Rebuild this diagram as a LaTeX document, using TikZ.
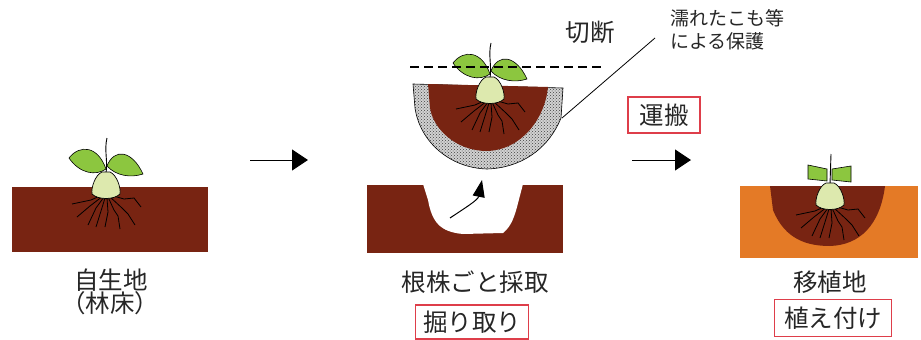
\documentclass[tikz,border=0pt]{standalone}
\usepackage{fontspec}
\setmainfont{Noto Sans CJK JP}
\usetikzlibrary{arrows.meta,patterns,positioning}

\definecolor{soil}{RGB}{120,36,18}
\definecolor{field}{RGB}{228,122,38}
\definecolor{leafgreen}{RGB}{140,198,63}
\definecolor{bulbgreen}{RGB}{221,233,174}
\definecolor{boxred}{RGB}{222,62,74}

% roots, drawn round the origin (bulb centre)
\newcommand\drawroots{%
  \draw[line width=0.8pt,line join=round]
    (-4,9) -- (-15,14) -- (-34,18)
    (-3,10) -- (-16,20) -- (-29,31)
    (-2,11) -- (-10,22) -- (-18,39)
    (-1,12) -- (-5,25) -- (-10,41)
    (1,12) -- (2,26) -- (-1,41)
    (2,11) -- (8,24) -- (12,30) -- (14,43)
    (3,10) -- (16,22) -- (22,28) -- (29,39)
    (4,9) -- (18,13) -- (28,12) -- (35,21);}
\newcommand\drawbulb{%
  \filldraw[fill=bulbgreen,line width=0.7pt]
    (-4,-14) .. controls (-11,-11) and (-15,2) .. (-14,8)
    .. controls (-8,14) and (8,14) .. (14,8)
    .. controls (15,2) and (11,-11) .. (4,-14) -- cycle;}

\tikzset{
  seedling/.pic={
    \drawroots
    \filldraw[fill=leafgreen,line width=0.6pt]
      (0,-17) .. controls (-10,-10) and (-26,-12) .. (-37,-28)
      .. controls (-26,-42) and (-8,-40) .. cycle;
    \filldraw[fill=leafgreen,line width=0.6pt]
      (1,-20) .. controls (8,-38) and (26,-36) .. (37,-12)
      .. controls (25,-8) and (10,-10) .. cycle;
    \draw[line width=0.9pt] (0,-13) .. controls (2,-25) and (-2,-36) .. (1,-48);
    \drawbulb
  },
  sprout/.pic={
    \drawroots
    \filldraw[fill=leafgreen,line width=0.6pt]
      (-22,-32) -- (-22,-18) -- (-3,-16) -- (-3,-28) -- cycle;
    \filldraw[fill=leafgreen,line width=0.6pt]
      (2,-28) -- (21,-31) -- (21,-15) -- (2,-17) -- cycle;
    \draw[line width=0.9pt] (0,-13) -- (1,-43);
    \drawbulb
  }
}

\begin{document}
\begin{tikzpicture}
[x=1pt,y=-1pt,
 jtext/.style={font=\fontsize{24.5}{28}\selectfont,text=black!85},
 smalltext/.style={font=\fontsize{19}{23}\selectfont,text=black!85,align=left},
 redbox/.style={jtext,draw=boxred,line width=1.4pt,inner sep=0pt},
 bigarrow/.style={-{Triangle[length=16pt,width=21pt]},line width=1pt},
 cutline/.style={line width=1.6pt,dash pattern=on 9pt off 5pt},
 wrapping/.style={draw,line width=0.6pt,preaction={fill=gray!35},pattern=crosshatch dots,pattern color=black!75},]
\useasboundingbox (0,0) rectangle (921,340);

% natural site
\fill[soil] (12,187) rectangle (208,252);
\pic at (106,186) {seedling};
\node (site) at (111,280) [jtext] {自生地};
\node (floor) at (110,303) [jtext] {（林床）};

\coordinate (a1s) at (250,160);
\coordinate (a1e) at (308,160);
\draw[bigarrow] (a1s) -- (a1e);

% dug out with the root ball
\fill[soil] (367,185) rectangle (563,253);
\fill[white] (423,184) -- (428,200) .. controls (432,222) and (440,232) .. (463,234)
  -- (503,233) .. controls (512,226) and (515,214) .. (517,207) -- (523,184) -- cycle;
\coordinate (lifts) at (450,218);
\coordinate (lifte) at (482,180);
\draw[-{Triangle[length=17pt,width=12pt]},line width=1pt]
  (lifts) .. controls (465,208) and (478,200) .. (lifte);

\draw[wrapping] (413,84) -- (563,88) -- (561,118)
  .. controls (548,150) and (520,168) .. (487,169)
  .. controls (450,168) and (420,142) .. (415,108) -- cycle;
\fill[soil] (428,84) -- (548,87) .. controls (545,118) and (522,150) .. (487,151)
  .. controls (455,151) and (433,128) .. (430,108) -- cycle;
\pic at (490,91) {seedling};
\coordinate (cuts) at (410,67);
\coordinate (cute) at (605,67);
\draw[cutline] (cuts) -- (cute);
\node (cut) at (590,32) [jtext] {切断};
\node (cover) at (667,30) [smalltext,anchor=west] {濡れたこも等\\による保護};
\coordinate (wrap) at (562,118);
\coordinate (tag) at (655,38);
\draw[line width=0.8pt] (wrap) -- (tag);

\node (dig) at (475,282) [jtext] {根株ごと採取};
\node (digbox) at (472,322) [redbox,minimum width=113pt,minimum height=34pt] {掘り取り};

% transport
\node (carry) at (664,115) [redbox,minimum width=72pt,minimum height=36pt] {運搬};
\coordinate (a2s) at (632,160);
\coordinate (a2e) at (691,160);
\draw[bigarrow] (a2s) -- (a2e);

% planting site
\fill[field] (740,186) rectangle (918,258);
\fill[soil] (770,186) -- (773,210) .. controls (785,240) and (808,246) .. (830,246)
  .. controls (860,245) and (880,225) .. (885,186) -- cycle;
\pic at (830,197) {sprout};
\node (plant) at (830,282) [jtext] {移植地};
\node (plantbox) at (833,318) [redbox,minimum width=117pt,minimum height=37pt] {植え付け};
\end{tikzpicture}
\end{document}
